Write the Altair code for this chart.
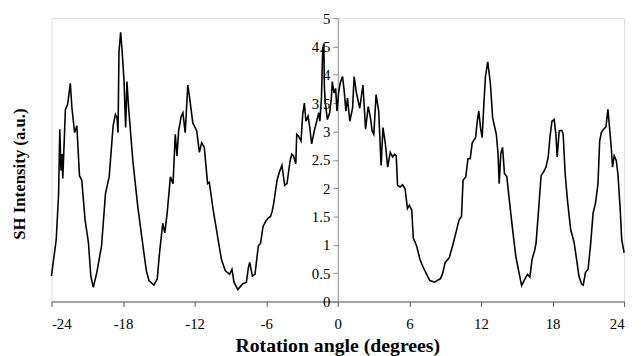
import altair as alt
import pandas as pd

angle = [-24.0, -23.6, -23.4, -23.3, -23.2, -23.1, -23.05, -22.97, -22.83, -22.64, -22.42, -22.28, -22.06, -21.87,
         -21.65, -21.46, -21.18, -20.9, -20.7, -20.49, -20.2, -19.8, -19.47, -19.16, -18.97, -18.83, -18.64, -18.5,
         -18.42, -18.34, -18.2, -18.09, -17.92, -17.78, -17.67, -17.53, -17.18, -16.76, -16.4, -16.05, -15.83, -15.41,
         -15.13, -14.94, -14.67, -14.5, -14.3, -14.03, -13.81, -13.62, -13.48, -13.34, -13.12, -12.98, -12.79, -12.57,
         -12.38, -12.15, -11.82, -11.6, -11.41, -11.19, -10.91, -10.77, -10.44, -10.03, -9.75, -9.42, -9.06, -8.87,
         -8.7, -8.38, -7.98, -7.66, -7.49, -7.38, -7.16, -6.94, -6.66, -6.47, -6.27, -6.06, -5.84, -5.64, -5.5, -5.37,
         -5.09, -4.9, -4.68, -4.45, -4.26, -3.99, -3.85, -3.71, -3.52, -3.44, -3.3, -3.08, -2.94, -2.8, -2.67, -2.49,
         -2.35, -2.19, -1.97, -1.77, -1.59, -1.5, -1.37, -1.26, -1.17, -1.12, -1.04, -0.87, -0.68, -0.54, -0.46, -0.32,
         -0.18, -0.07, 0.07, 0.2, 0.4, 0.54, 0.68, 0.81, 1.01, 1.24, 1.37, 1.56, 1.84, 2.11, 2.33, 2.55, 2.74, 2.88,
         3.02, 3.21, 3.43, 3.63, 3.79, 3.99, 4.18, 4.4, 4.6, 4.76, 4.9, 5.01, 5.23, 5.42, 5.64, 5.84, 6.0, 6.2, 6.33,
         6.61, 6.89, 7.17, 7.45, 7.72, 8.14, 8.4, 8.6, 8.8, 9.0, 9.34, 9.62, 9.9, 10.17, 10.37, 10.5, 10.73, 10.91,
         11.1, 11.27, 11.55, 11.69, 11.82, 11.96, 12.1, 12.24, 12.38, 12.57, 12.79, 12.98, 13.29, 13.43, 13.53, 13.66,
         13.81, 13.97, 14.17, 14.44, 14.72, 14.92, 15.19, 15.41, 15.69, 15.9, 16.1, 16.29, 16.5, 16.62, 16.85, 17.04,
         17.23, 17.45, 17.64, 17.78, 17.95, 18.14, 18.28, 18.39, 18.56, 18.78, 18.89, 19.06, 19.25, 19.52, 19.8,
         20.02, 20.21, 20.43, 20.57, 20.76, 20.98, 21.18, 21.4, 21.6, 21.81, 21.95, 22.09, 22.28, 22.48, 22.64, 22.78,
         22.92, 23.03, 23.17, 23.34, 23.48, 23.66, 23.8, 24.0]

intensity = [0.45, 1.09, 1.9, 3.04, 2.31, 2.6, 2.17, 2.6, 3.39, 3.48, 3.85, 3.41, 2.98, 3.1,
             2.22, 2.14, 1.44, 1.04, 0.45, 0.25, 0.51, 0.98, 1.91, 2.2, 2.72, 3.1, 3.3, 3.24,
             2.98, 4.4, 4.75, 4.46, 3.91, 3.07, 3.88, 3.41, 2.49, 1.67, 1.09, 0.55, 0.37, 0.29,
             0.4, 0.86, 1.38, 1.21, 1.56, 2.2, 2.08, 2.95, 2.57, 3.01, 3.27, 3.33, 2.98, 3.82,
             3.53, 3.15, 3.01, 2.63, 2.8, 2.72, 2.08, 2.1, 1.61, 1.09, 0.74, 0.54, 0.48, 0.57,
             0.34, 0.21, 0.31, 0.34, 0.6, 0.69, 0.45, 0.48, 0.98, 1.03, 1.32, 1.41, 1.47, 1.5, 1.59, 1.73,
             2.14, 2.28, 2.4, 2.05, 2.08, 2.49, 2.6, 2.57, 2.43, 2.95, 2.92, 2.83, 3.3, 3.5, 3.18, 3.27,
             3.07, 2.78, 3.01, 3.18, 3.33, 3.18, 3.59, 4.46, 4.55, 3.76, 3.5, 3.21, 3.33, 3.59, 3.88, 3.68,
             3.76, 3.36, 3.68, 3.85, 3.97, 3.71, 3.36, 3.59, 3.18, 3.41, 3.97, 3.68, 3.41, 3.82, 3.04, 3.44, 3.24, 3.01,
             2.95, 3.65, 3.36, 2.4, 3.07, 2.78, 2.37, 2.63, 2.55, 2.6, 2.57, 2.05, 2.02, 2.06, 1.99, 1.64, 1.7, 1.61, 1.12,
             0.98, 0.74, 0.6, 0.48, 0.37, 0.34, 0.38, 0.4, 0.5, 0.69, 0.77, 0.98, 1.21, 1.44, 1.5, 2.14, 2.2, 2.52,
             2.52, 2.8, 2.89, 3.18, 3.36, 3.07, 2.89, 3.47, 3.97, 4.23, 3.85, 3.24, 2.95, 2.61, 2.08, 2.6,
             2.72, 2.26, 2.2, 1.67, 1.15, 0.8, 0.51, 0.28, 0.4, 0.48, 0.43, 0.75, 0.9, 1.03, 1.67, 2.22,
             2.28, 2.37, 2.55, 2.89, 3.18, 3.21, 2.95, 2.55, 3.01, 3.02, 2.95, 2.25, 1.79, 1.27, 1.05,
             0.74, 0.45, 0.31, 0.29, 0.51, 0.57, 0.98, 1.56, 1.73, 2.08, 2.83, 2.98, 3.04, 3.08, 3.39, 3.07,
             2.72, 2.37, 2.57, 2.49, 2.25, 1.67, 1.09, 0.86]

x_ticks = [-24, -18, -12, -6, 0, 6, 12, 18, 24]
y_ticks = [0, 0.5, 1, 1.5, 2, 2.5, 3, 3.5, 4, 4.5, 5]
x_title = "Rotation angle (degrees)"
y_title = "SH Intensity (a.u.)"

W, H = 580, 287
FONT = "Liberation Serif"

df = pd.DataFrame({"angle": angle, "intensity": intensity})

line = alt.Chart(df).mark_line(color="black", strokeWidth=1.6).encode(
    x=alt.X("angle:Q", scale=alt.Scale(domain=[-24, 24], nice=False, zero=False),
            axis=alt.Axis(values=x_ticks, title=None, grid=False, domainColor="#555", tickColor="#555",
                          tickSize=5, labelPadding=10, labelFont=FONT, labelFontSize=15, labelColor="black",
                          labelExpr="datum.value + ''")),
    y=alt.Y("intensity:Q", scale=alt.Scale(domain=[0, 5], nice=False),
            axis=alt.Axis(values=y_ticks, title=None, grid=False, offset=-290, domainColor="#8a8a8a",
                          tickColor="#8a8a8a", tickSize=5, labelPadding=3, labelFont=FONT, labelFontSize=15,
                          labelColor="black", labelFlush=False, labelOverlap=False,
                          labelExpr="datum.value + ''")),
)

one = pd.DataFrame({"t": [0]})
xt = alt.Chart(one).mark_text(font=FONT, fontSize=20, fontWeight="bold", color="black",
                              baseline="middle", align="center").encode(
    x=alt.value(W / 2), y=alt.value(H + 45), text=alt.value(x_title))
yt = alt.Chart(one).mark_text(font=FONT, fontSize=17, fontWeight="bold", color="black",
                              baseline="middle", align="center", angle=270).encode(
    x=alt.value(-32), y=alt.value(158), text=alt.value(y_title))

chart = alt.layer(line, xt, yt).properties(
    width=W, height=H, autosize=alt.AutoSizeParams(type="none"),
    padding={"left": 44, "top": 8, "right": 9, "bottom": 57},
).configure_view(stroke=None).configure(background="white")

chart.save("out.html", embed_options={"renderer": "svg", "actions": False})
